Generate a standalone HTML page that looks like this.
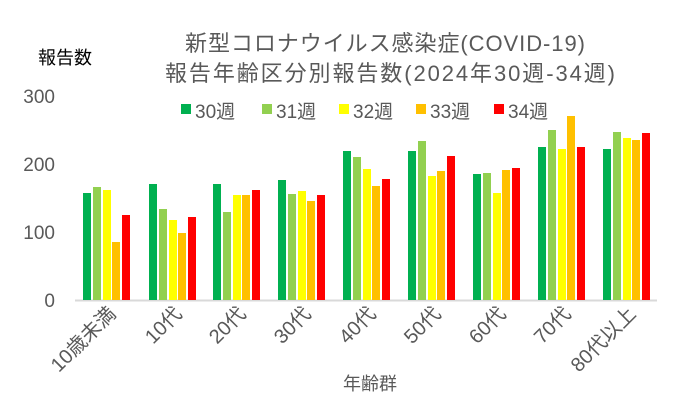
<!DOCTYPE html>
<html><head><meta charset="utf-8"><style>
html,body{margin:0;padding:0;background:#fff;}
svg{display:block;font-family:"Liberation Sans","Noto Sans CJK JP",sans-serif;}
</style></head><body>
<svg width="682" height="419" viewBox="0 0 682 419">
<text x="385" y="51" font-size="22" fill="#595959" text-anchor="middle" textLength="400">新型コロナウイルス感染症(COVID-19)</text>
<text x="390" y="81" font-size="22" fill="#595959" text-anchor="middle" textLength="450">報告年齢区分別報告数(2024年30週-34週)</text>
<text x="38" y="64" font-size="18" fill="#000">報告数</text>
<g font-size="19" fill="#595959" text-anchor="end">
<text x="55" y="103">300</text><text x="55" y="171">200</text><text x="55" y="239">100</text><text x="55" y="307">0</text>
</g>
<g font-size="19" fill="#595959">
<rect x="181" y="104" width="10" height="10" fill="#00b050"/><text x="195" y="118">30週</text>
<rect x="262" y="104" width="10" height="10" fill="#92d050"/><text x="276" y="118">31週</text>
<rect x="339" y="104" width="10" height="10" fill="#ffff00"/><text x="353" y="118">32週</text>
<rect x="416" y="104" width="10" height="10" fill="#ffc000"/><text x="430" y="118">33週</text>
<rect x="494" y="104" width="10" height="10" fill="#ff0000"/><text x="508" y="118">34週</text>
</g>
<line x1="75" y1="300.5" x2="657" y2="300.5" stroke="#d9d9d9" stroke-width="2"/>
<g>
<rect x="83" y="193" width="8" height="107" fill="#00b050"/><rect x="93" y="187" width="8" height="113" fill="#92d050"/><rect x="103" y="190" width="8" height="110" fill="#ffff00"/><rect x="112" y="242" width="8" height="58" fill="#ffc000"/><rect x="122" y="215" width="8" height="85" fill="#ff0000"/>
<rect x="149" y="184" width="8" height="116" fill="#00b050"/><rect x="159" y="209" width="8" height="91" fill="#92d050"/><rect x="169" y="220" width="8" height="80" fill="#ffff00"/><rect x="178" y="233" width="8" height="67" fill="#ffc000"/><rect x="188" y="217" width="8" height="83" fill="#ff0000"/>
<rect x="213" y="184" width="8" height="116" fill="#00b050"/><rect x="223" y="212" width="8" height="88" fill="#92d050"/><rect x="233" y="195" width="8" height="105" fill="#ffff00"/><rect x="242" y="195" width="8" height="105" fill="#ffc000"/><rect x="252" y="190" width="8" height="110" fill="#ff0000"/>
<rect x="278" y="180" width="8" height="120" fill="#00b050"/><rect x="288" y="194" width="8" height="106" fill="#92d050"/><rect x="298" y="191" width="8" height="109" fill="#ffff00"/><rect x="307" y="201" width="8" height="99" fill="#ffc000"/><rect x="317" y="195" width="8" height="105" fill="#ff0000"/>
<rect x="343" y="151" width="8" height="149" fill="#00b050"/><rect x="353" y="157" width="8" height="143" fill="#92d050"/><rect x="363" y="169" width="8" height="131" fill="#ffff00"/><rect x="372" y="186" width="8" height="114" fill="#ffc000"/><rect x="382" y="179" width="8" height="121" fill="#ff0000"/>
<rect x="408" y="151" width="8" height="149" fill="#00b050"/><rect x="418" y="141" width="8" height="159" fill="#92d050"/><rect x="428" y="176" width="8" height="124" fill="#ffff00"/><rect x="437" y="171" width="8" height="129" fill="#ffc000"/><rect x="447" y="156" width="8" height="144" fill="#ff0000"/>
<rect x="473" y="174" width="8" height="126" fill="#00b050"/><rect x="483" y="173" width="8" height="127" fill="#92d050"/><rect x="493" y="193" width="8" height="107" fill="#ffff00"/><rect x="502" y="170" width="8" height="130" fill="#ffc000"/><rect x="512" y="168" width="8" height="132" fill="#ff0000"/>
<rect x="538" y="147" width="8" height="153" fill="#00b050"/><rect x="548" y="130" width="8" height="170" fill="#92d050"/><rect x="558" y="149" width="8" height="151" fill="#ffff00"/><rect x="567" y="116" width="8" height="184" fill="#ffc000"/><rect x="577" y="147" width="8" height="153" fill="#ff0000"/>
<rect x="603" y="149" width="8" height="151" fill="#00b050"/><rect x="613" y="132" width="8" height="168" fill="#92d050"/><rect x="623" y="138" width="8" height="162" fill="#ffff00"/><rect x="632" y="140" width="8" height="160" fill="#ffc000"/><rect x="642" y="133" width="8" height="167" fill="#ff0000"/>
</g>
<g font-size="20" fill="#595959" text-anchor="end">
<text transform="translate(117,315) rotate(-45)">10歳未満</text>
<text transform="translate(183,315) rotate(-45)">10代</text>
<text transform="translate(247,315) rotate(-45)">20代</text>
<text transform="translate(312,315) rotate(-45)">30代</text>
<text transform="translate(377,315) rotate(-45)">40代</text>
<text transform="translate(442,315) rotate(-45)">50代</text>
<text transform="translate(507,315) rotate(-45)">60代</text>
<text transform="translate(572,315) rotate(-45)">70代</text>
<text transform="translate(637,315) rotate(-45)">80代以上</text>
</g>
<text x="370" y="390" font-size="18" fill="#595959" text-anchor="middle">年齢群</text>
</svg>
</body></html>
